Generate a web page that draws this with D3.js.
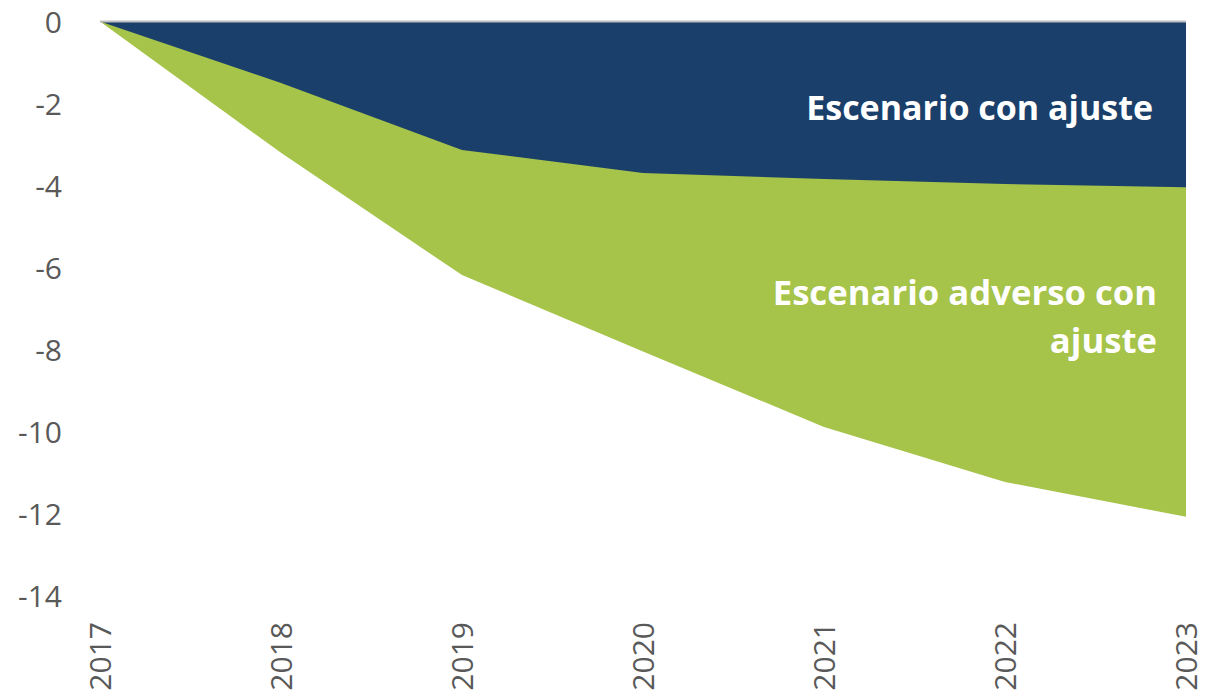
<!DOCTYPE html>
<html>
<head>
<meta charset="utf-8">
<script src="https://cdn.jsdelivr.net/npm/d3@7"></script>
<style>
  body { margin: 0; background: #fff; }
  text { font-family: "Open Sans", "Noto Sans", sans-serif; }
</style>
</head>
<body>
<div id="chart"></div>
<script>
// data
const years = ["2017", "2018", "2019", "2020", "2021", "2022", "2023"];
const conAjuste = [0, -1.5, -3.13, -3.69, -3.84, -3.96, -4.04];
const adversoConAjuste = [0, -3.2, -6.18, -8.04, -9.88, -11.22, -12.07];
const yTicks = [0, -2, -4, -6, -8, -10, -12, -14];

const width = 1211, height = 697;
const margin = { top: 21.5, right: 25, bottom: 101, left: 100 };
const innerW = width - margin.left - margin.right;
const innerH = height - margin.top - margin.bottom;

const svg = d3.select("#chart")
  .append("svg")
  .attr("width", width)
  .attr("height", height);

const g = svg.append("g")
  .attr("transform", `translate(${margin.left},${margin.top})`);

const x = d3.scalePoint()
  .domain(years)
  .range([0, innerW]);

const y = d3.scaleLinear()
  .domain([0, -14])
  .range([0, innerH]);

// adverse scenario drawn first, the other on top
const area = vals => d3.area()
  .x((d, i) => x(years[i]))
  .y0(y(0))
  .y1(d => y(d))(vals);

g.append("path")
  .attr("d", area(adversoConAjuste))
  .attr("fill", "#A6C34A");

g.append("path")
  .attr("d", area(conAjuste))
  .attr("fill", "#1A3F6A");

// zero line
g.append("line")
  .attr("x1", 0)
  .attr("x2", innerW)
  .attr("y1", y(0))
  .attr("y2", y(0))
  .attr("stroke", "#BFBFBF")
  .attr("stroke-width", 2);

// Y axis
const yAxis = g.append("g")
  .call(d3.axisLeft(y).tickValues(yTicks).tickFormat(d => d).tickSize(0).tickPadding(38));
yAxis.select(".domain").remove();
yAxis.selectAll("text")
  .attr("font-size", 30)
  .attr("fill", "#595959")
  .attr("dy", "0.35em");

// X axis, rotated year labels
const xAxis = g.append("g")
  .attr("transform", `translate(0,${innerH})`)
  .call(d3.axisBottom(x).tickSize(0));
xAxis.select(".domain").remove();
xAxis.selectAll("text")
  .attr("font-size", 30)
  .attr("fill", "#595959")
  .attr("transform", "rotate(-90)")
  .attr("text-anchor", "end")
  .attr("x", -26)
  .attr("y", 0)
  .attr("dy", "0.35em");

// labels inside areas
const labels = [
  { lines: ["Escenario con ajuste"], y: -2.4, right: 1153, size: 34 },
  { lines: ["Escenario adverso con", "ajuste"], y: -6.91, right: 1157, size: 34.7 }
];
labels.forEach(l => {
  const t = g.append("text")
    .attr("text-anchor", "end")
    .attr("font-size", l.size)
    .attr("font-weight", "bold")
    .attr("fill", "#fff");
  l.lines.forEach((s, i) => {
    t.append("tspan")
      .attr("x", l.right - margin.left)
      .attr("y", y(l.y) + i * 48)
      .text(s);
  });
});
</script>
</body>
</html>
